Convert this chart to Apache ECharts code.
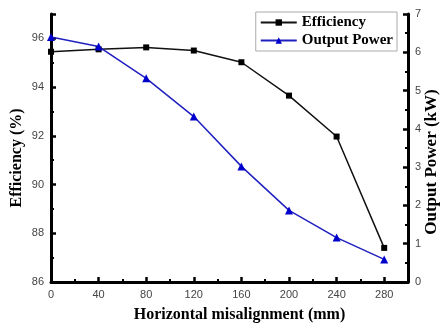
<!DOCTYPE html>
<html>
<head>
<meta charset="utf-8">
<script src="https://cdn.jsdelivr.net/npm/echarts@6/dist/echarts.min.js"></script>
<style>
  html, body { margin: 0; padding: 0; background: #fff; }
  #chart { width: 440px; height: 324px; }
</style>
</head>
<body>
<div id="chart"></div>
<script>
// misalignment in mm
const misalign = [0, 40, 80, 120, 160, 200, 240, 280]
// efficiency in %
const efficiency = [95.45, 95.55, 95.63, 95.5, 95.02, 93.65, 91.97, 87.4]
// output power in kW
const outputPower = [6.4, 6.15, 5.32, 4.32, 3.02, 1.87, 1.16, 0.59]

const serif = '"Liberation Serif", "DejaVu Serif", serif'
const sans = '"Liberation Sans", Arial, sans-serif'

const axisCommon = {
  nameMoveOverlap: false,
  axisLine: { show: true, lineStyle: { color: '#000', width: 3 } },
  axisTick: { show: true, inside: true, length: 5, lineStyle: { color: '#000', width: 2.5 } },
  minorTick: { show: true, splitNumber: 2, length: 3, lineStyle: { color: '#000', width: 2 } },
  splitLine: { show: false },
  axisLabel: { color: '#444', fontFamily: sans, fontSize: 11 },
  nameTextStyle: { color: '#000', fontFamily: serif, fontWeight: 'bold', fontSize: 13 }
}

const chart = echarts.init(document.getElementById('chart'))
chart.setOption({
  animation: false,
  grid: { left: 51, right: 32, top: 14, bottom: 42, containLabel: false, outerBoundsMode: 'none' },
  legend: {
    top: 12,
    right: 43,
    orient: 'vertical',
    itemGap: 3,
    itemWidth: 36,
    itemHeight: 8,
    padding: [3, 4, 3, 4],
    borderColor: '#aaa',
    borderWidth: 1,
    backgroundColor: '#fff',
    textStyle: { fontFamily: serif, fontWeight: 'bold', fontSize: 15, color: '#000' },
    data: ['Efficiency', 'Output Power']
  },
  xAxis: Object.assign({}, axisCommon, {
    type: 'value',
    min: 0,
    max: 300,
    interval: 40,
    name: 'Horizontal misalignment (mm)',
    nameLocation: 'middle',
    nameGap: 25,
    nameTextStyle: Object.assign({}, axisCommon.nameTextStyle, { fontSize: 16, padding: [0, 0, 0, 20] }),
    axisLabel: Object.assign({}, axisCommon.axisLabel, { showMaxLabel: false, margin: 7 })
  }),
  yAxis: [
    Object.assign({}, axisCommon, {
      type: 'value',
      min: 86,
      max: 97,
      interval: 2,
      name: 'Efficiency (%)',
      nameLocation: 'middle',
      nameRotate: 90,
      nameGap: 26,
      nameTextStyle: Object.assign({}, axisCommon.nameTextStyle, { fontSize: 16, padding: [0, 20, 0, 0] }),
      axisLabel: Object.assign({}, axisCommon.axisLabel, { showMaxLabel: false, margin: 7 })
    }),
    Object.assign({}, axisCommon, {
      type: 'value',
      position: 'right',
      min: 0,
      max: 7,
      interval: 1,
      name: 'Output Power (kW)',
      nameLocation: 'middle',
      nameRotate: 90,
      nameGap: 15,
      nameTextStyle: Object.assign({}, axisCommon.nameTextStyle, { fontSize: 17, padding: [0, 28, 0, 0] }),
      axisLabel: Object.assign({}, axisCommon.axisLabel, { margin: 7 })
    })
  ],
  series: [
    {
      name: 'Efficiency',
      type: 'line',
      yAxisIndex: 0,
      data: misalign.map((x, i) => [x, efficiency[i]]),
      symbol: 'rect',
      symbolSize: 6,
      lineStyle: { color: '#111', width: 1.5 },
      itemStyle: { color: '#000' }
    },
    {
      name: 'Output Power',
      type: 'line',
      yAxisIndex: 1,
      data: misalign.map((x, i) => [x, outputPower[i]]),
      symbol: 'triangle',
      symbolSize: 8,
      lineStyle: { color: '#2020c0', width: 1.5 },
      itemStyle: { color: '#0000cc' }
    }
  ]
})
</script>
</body>
</html>
